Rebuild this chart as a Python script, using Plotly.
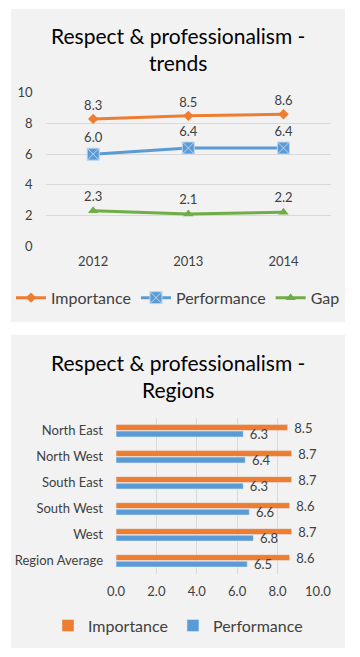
import plotly.graph_objects as go

W, H = 360, 657
FONT = "Lato"

years = ["2012", "2013", "2014"]
trend_importance = [8.3, 8.5, 8.6]
trend_performance = [6.0, 6.4, 6.4]
trend_gap = [2.3, 2.1, 2.2]

regions = ["North East", "North West", "South East", "South West", "West", "Region Average"]
region_importance = [8.5, 8.7, 8.7, 8.6, 8.7, 8.6]
region_performance = [6.3, 6.4, 6.3, 6.6, 6.8, 6.5]

ORANGE = "#ED7D31"
BLUE = "#5B9BD5"
GREEN = "#70AD47"
GRID = "#D9D9D9"
TXT = "#404040"


def fx(px):
    return px / W


def fy(py):
    return 1 - py / H


fig = go.Figure()

fig.add_trace(go.Scatter(
    x=years, y=trend_importance, name="Importance", mode="lines+markers+text",
    line=dict(color=ORANGE, width=3), marker=dict(symbol="diamond", size=8, color=ORANGE),
    text=[f"{v:.1f}" for v in trend_importance], textposition="top center",
    textfont=dict(size=13, color=TXT, family=FONT), xaxis="x", yaxis="y", legend="legend",
    cliponaxis=False))
fig.add_trace(go.Scatter(
    x=years, y=trend_performance, name="Performance", mode="lines+markers+text",
    line=dict(color=BLUE, width=3),
    marker=dict(symbol="square-x", size=12, color=BLUE, line=dict(color="#BDD7EE", width=1)),
    text=[f"{v:.1f}" for v in trend_performance], textposition="top center",
    textfont=dict(size=13, color=TXT, family=FONT), xaxis="x", yaxis="y", legend="legend",
    cliponaxis=False))
fig.add_trace(go.Scatter(
    x=years, y=trend_gap, name="Gap", mode="lines+markers+text",
    line=dict(color=GREEN, width=3), marker=dict(symbol="triangle-up", size=9, color=GREEN),
    text=[f"{v:.1f}" for v in trend_gap], textposition="top center",
    textfont=dict(size=13, color=TXT, family=FONT), xaxis="x", yaxis="y", legend="legend",
    cliponaxis=False))

fig.add_trace(go.Bar(
    y=regions, x=region_importance, name="Importance", orientation="h",
    marker=dict(color=ORANGE), texttemplate="  %{x:.1f}",
    textposition="outside", constraintext="none", cliponaxis=False,
    textfont=dict(size=13, color=TXT, family=FONT), xaxis="x2", yaxis="y2", legend="legend2"))
fig.add_trace(go.Bar(
    y=regions, x=region_performance, name="Performance", orientation="h",
    marker=dict(color=BLUE), texttemplate="  %{x:.1f}",
    textposition="outside", constraintext="none", cliponaxis=False,
    textfont=dict(size=13, color=TXT, family=FONT), xaxis="x2", yaxis="y2", legend="legend2"))

fig.update_layout(
    width=W, height=H, margin=dict(l=0, r=0, t=0, b=0),
    paper_bgcolor="white", plot_bgcolor="rgba(0,0,0,0)",
    font=dict(family=FONT, color=TXT, size=13),
    showlegend=True, barmode="group", bargap=0.5, bargroupgap=0.1,
    xaxis=dict(domain=[fx(39), fx(343)], anchor="y", range=[-0.5, 2.5], showgrid=False,
               zeroline=False, showline=False, ticks="", tickfont=dict(size=13, color=TXT),
               ticklabelstandoff=6, fixedrange=True),
    yaxis=dict(domain=[fy(244), fy(87)], anchor="x", range=[0, 10], dtick=2,
               showgrid=True, gridcolor=GRID, gridwidth=1, zeroline=False, showline=False,
               ticks="", tickfont=dict(size=13, color=TXT), ticklabelstandoff=12,
               fixedrange=True),
    xaxis2=dict(domain=[fx(114), fx(329)], anchor="y2", range=[0, 10], dtick=2,
                tickformat=".1f", showgrid=True, gridcolor=GRID, zeroline=False,
                showline=False, ticks="", tickfont=dict(size=13, color=TXT),
                ticklabelstandoff=8, fixedrange=True),
    yaxis2=dict(domain=[fy(580), fy(420)], anchor="x2", autorange="reversed",
                showgrid=False, zeroline=False, showline=False, ticks="",
                tickfont=dict(size=13, color=TXT), ticklabelstandoff=12, fixedrange=True),
    legend=dict(orientation="h", x=0.5, xanchor="center", y=fy(297), yanchor="middle",
                font=dict(size=16, color=TXT, family=FONT), bgcolor="rgba(0,0,0,0)",
                itemwidth=30, tracegroupgap=0),
    legend2=dict(orientation="h", x=0.5, xanchor="center", y=fy(633), yanchor="middle",
                 font=dict(size=16, color=TXT, family=FONT), bgcolor="rgba(0,0,0,0)",
                 traceorder="normal"),
    shapes=[
        dict(type="rect", xref="paper", yref="paper", x0=fx(2), x1=fx(358), y0=fy(322), y1=fy(1),
             fillcolor="#F2F2F2", line=dict(width=0), layer="below"),
        dict(type="rect", xref="paper", yref="paper", x0=fx(2), x1=fx(358), y0=fy(656), y1=fy(335),
             fillcolor="#F2F2F2", line=dict(width=0), layer="below"),
    ],
    annotations=[
        dict(text="Respect & professionalism -<br>trends", xref="paper", yref="paper",
             x=0.5, y=fy(42), xanchor="center", yanchor="middle", showarrow=False,
             font=dict(size=21, color="#000000", family=FONT)),
        dict(text="Respect & professionalism -<br>Regions", xref="paper", yref="paper",
             x=0.5, y=fy(377), xanchor="center", yanchor="middle", showarrow=False,
             font=dict(size=21, color="#000000", family=FONT)),
    ],
)

fig.write_html(
    "out.html",
    config={"displayModeBar": False},
    post_script="document.body.style.margin='0';",
)
